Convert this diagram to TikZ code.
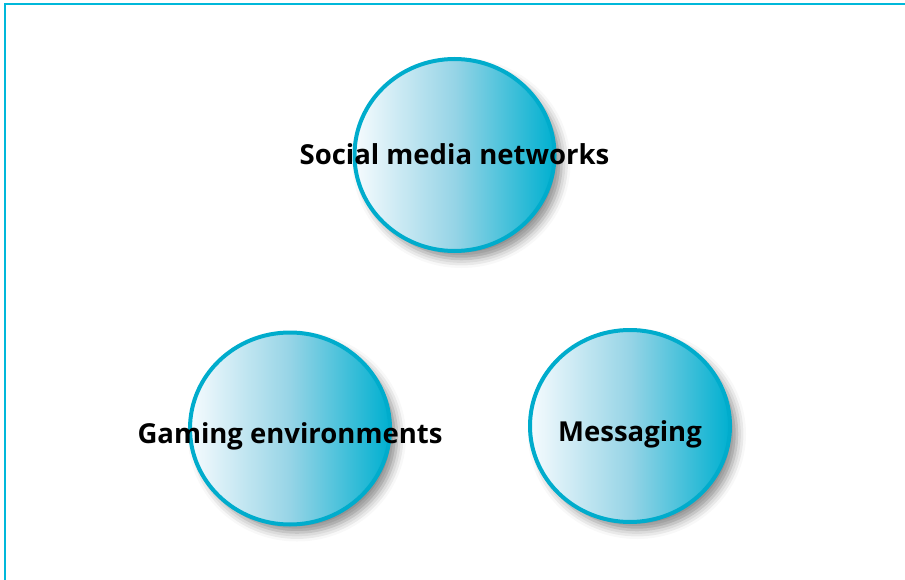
\documentclass[tikz,border=0pt]{standalone}
\usepackage{fontspec}
\setmainfont{Open Sans}
\usetikzlibrary{shapes.geometric,shadows.blur}
\definecolor{rim}{RGB}{0,172,204}
\definecolor{frame}{RGB}{0,184,218}
\definecolor{lightend}{RGB}{246,251,254}
\definecolor{midtone}{RGB}{150,212,230}
\definecolor{darkend}{RGB}{0,176,208}
\tikzset{
  bubble/.style={ellipse, inner sep=0pt, draw=rim, line width=4pt,
    left color=lightend, right color=darkend, middle color=midtone, shading angle=90,
    minimum width=200pt, minimum height=192pt,
    blur shadow={shadow xshift=7pt, shadow yshift=-8pt, shadow blur radius=9pt, shadow opacity=45}},
  caption/.style={inner sep=0pt, font=\fontsize{27.5}{30}\selectfont\bfseries, text=black,
    text height=20pt, text depth=0pt},
}
\begin{document}
\begin{tikzpicture}[x=1pt,y=1pt]
\useasboundingbox (0,0) rectangle (905,-580);
\draw[frame, line width=2pt] (4.5,-590) -- (4.5,-4.5) -- (915,-4.5);
\node[bubble, label={[caption]center:Social media networks}] (social) at (454.5,-155) {};
\node[bubble, label={[caption, yshift=-5pt]center:Gaming environments}] (gaming) at (290,-428.5) {};
\node[bubble, label={[caption, yshift=-5pt]center:Messaging}] (msg) at (630,-426) {};
\end{tikzpicture}
\end{document}
